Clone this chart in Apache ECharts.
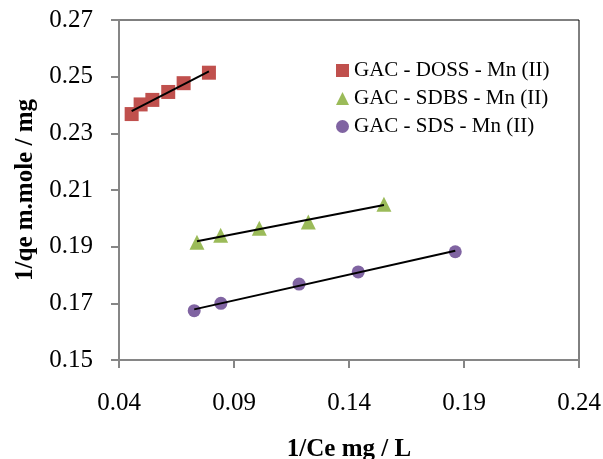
<!DOCTYPE html>
<html>
<head>
<meta charset="utf-8">
<script src="https://cdn.jsdelivr.net/npm/echarts@6/dist/echarts.min.js"></script>
<style>
html,body{margin:0;padding:0;background:#fff;}
#chart{width:603px;height:459px;}
</style>
</head>
<body>
<div id="chart"></div>
<script>
// Data
var seriesNames = ['GAC - DOSS - Mn (II)', 'GAC - SDBS - Mn (II)', 'GAC - SDS - Mn (II)'];
var dossX = [0.0455, 0.0494, 0.0545, 0.0614, 0.0681, 0.0791];
var dossY = [0.2368, 0.2402, 0.2418, 0.2446, 0.2477, 0.2514];
var sdbsX = [0.0739, 0.0842, 0.1010, 0.1223, 0.1552];
var sdbsY = [0.1916, 0.1940, 0.1965, 0.1987, 0.2050];
var sdsX = [0.0727, 0.0843, 0.1183, 0.1440, 0.1862];
var sdsY = [0.1674, 0.1700, 0.1768, 0.1811, 0.1882];
var xTicks = [0.04, 0.09, 0.14, 0.19, 0.24];
var yTicks = [0.15, 0.17, 0.19, 0.21, 0.23, 0.25, 0.27];

function pairs(xs, ys) { return xs.map(function (x, i) { return [x, ys[i]]; }); }
function trend(xs, ys) {
  var n = xs.length, sx = 0, sy = 0, sxx = 0, sxy = 0;
  for (var i = 0; i < n; i++) { sx += xs[i]; sy += ys[i]; sxx += xs[i] * xs[i]; sxy += xs[i] * ys[i]; }
  var b = (n * sxy - sx * sy) / (n * sxx - sx * sx);
  var a = (sy - b * sx) / n;
  var x0 = Math.min.apply(null, xs), x1 = Math.max.apply(null, xs);
  return [[x0, a + b * x0], [x1, a + b * x1]];
}

var colors = ['#C0504D', '#9BBB59', '#8064A2'];
var symbols = ['rect', 'triangle', 'circle'];
var sizes = [14, 15, 13];
var dataX = [dossX, sdbsX, sdsX];
var dataY = [dossY, sdbsY, sdsY];

var series = [];
for (var k = 0; k < 3; k++) {
  series.push({
    name: seriesNames[k], type: 'scatter', symbol: symbols[k], symbolSize: sizes[k],
    itemStyle: { color: colors[k], opacity: 1 }, data: pairs(dataX[k], dataY[k]), z: 2, emphasis: {disabled: true}
  });
}
for (var k = 0; k < 3; k++) {
  series.push({
    type: 'line', data: trend(dataX[k], dataY[k]), showSymbol: false, symbol: 'none',
    lineStyle: { color: '#000', width: 2 }, z: 3, silent: true, animation: false
  });
}

var font = 'Liberation Serif, Times New Roman, serif';
var chart = echarts.init(document.getElementById('chart'), null, { renderer: 'canvas' });
chart.setOption({
  animation: false,
  backgroundColor: '#fff',
  grid: { left: 119, right: 24, top: 20, bottom: 99, show: true, borderColor: '#000', borderWidth: 1, containLabel: false, outerBoundsMode: 'none' },
  legend: {
    orient: 'vertical', left: 331, top: 55, itemWidth: 13, itemHeight: 13, itemGap: 7,
    data: seriesNames.map(function (n, i) { return { name: n, icon: symbols[i] }; }),
    textStyle: { fontFamily: font, fontSize: 21, color: '#000' }, selectedMode: false
  },
  xAxis: {
    type: 'value', min: xTicks[0], max: xTicks[xTicks.length - 1], interval: 0.05,
    name: '1/Ce mg / L', nameLocation: 'middle', nameGap: 77,
    nameTextStyle: { fontFamily: font, fontSize: 25, fontWeight: 'bold', color: '#000' },
    axisLine: { show: true, lineStyle: { color: '#868686', width: 2 } },
    axisTick: { show: true, inside: false, length: 8, lineStyle: { color: '#868686', width: 2 } },
    splitLine: { show: false },
    axisLabel: { margin: 31, fontFamily: font, fontSize: 25, color: '#000', formatter: function (v) { return v.toFixed(2); } }
  },
  yAxis: {
    type: 'value', min: yTicks[0], max: yTicks[yTicks.length - 1], interval: 0.02,
    name: '1/qe m.mole / mg', nameLocation: 'middle', nameGap: 77,
    nameTextStyle: { fontFamily: font, fontSize: 25, fontWeight: 'bold', color: '#000' },
    axisLine: { show: true, lineStyle: { color: '#868686', width: 2 } },
    axisTick: { show: true, inside: false, length: 8, lineStyle: { color: '#868686', width: 2 } },
    splitLine: { show: false },
    axisLabel: { margin: 26, fontFamily: font, fontSize: 25, color: '#000', formatter: function (v) { return v.toFixed(2); } }
  },
  series: series
});
</script>
</body>
</html>
